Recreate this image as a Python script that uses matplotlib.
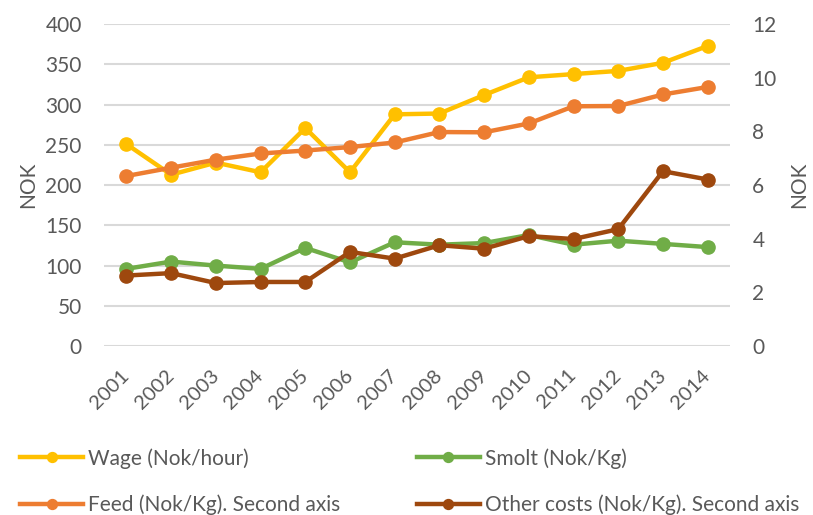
import matplotlib
matplotlib.use('Agg')
import matplotlib.pyplot as plt
import numpy as np

plt.rcParams['font.family'] = ['Lato', 'DejaVu Sans']

years = ['2001', '2002', '2003', '2004', '2005', '2006', '2007',
         '2008', '2009', '2010', '2011', '2012', '2013', '2014']
wage = [251, 213, 228, 216, 271, 216, 288, 289, 312, 334, 338, 342, 352, 373]
smolt = [96, 105, 100, 96, 122, 104, 129, 126, 128, 138, 126, 131, 127, 123]
feed = [6.34, 6.65, 6.95, 7.18, 7.29, 7.42, 7.59, 7.98, 7.97, 8.30, 8.94, 8.95, 9.38, 9.66]
other = [2.63, 2.72, 2.35, 2.39, 2.39, 3.51, 3.26, 3.76, 3.63, 4.10, 3.99, 4.36, 6.52, 6.21]

c_wage = '#FFC000'
c_smolt = '#70AD47'
c_feed = '#ED7D31'
c_other = '#9E480E'
txt = '#595959'

fig = plt.figure(figsize=(8.13, 5.15), dpi=100)
ax = fig.add_axes([0.128, 0.328, 0.77, 0.625])
ax2 = ax.twinx()

x = np.arange(len(years))
kw = dict(linewidth=3.2, marker='o', markersize=9.5)
l1, = ax.plot(x, wage, color=c_wage, label='Wage (Nok/hour)', **kw)
l2, = ax.plot(x, smolt, color=c_smolt, label='Smolt (Nok/Kg)', **kw)
l3, = ax2.plot(x, feed, color=c_feed, label='Feed (Nok/Kg). Second axis', **kw)
l4, = ax2.plot(x, other, color=c_other, label='Other costs (Nok/Kg). Second axis', **kw)

ax.set_xlim(-0.5, len(years) - 0.5)
ax.set_ylim(0, 400)
ax2.set_ylim(0, 12)
ax.set_yticks(np.arange(0, 401, 50))
ax2.set_yticks(np.arange(0, 13, 2))
ax.grid(axis='y', color='#D9D9D9', linewidth=1.5)
ax.set_axisbelow(True)

ax.set_xticks(x)
ax.set_xticklabels(years, rotation=45, ha='right', va='center', rotation_mode='anchor')

for a in (ax, ax2):
    for s in a.spines.values():
        s.set_visible(False)
ax.tick_params(axis='both', length=0, labelsize=15, labelcolor=txt)
ax.tick_params(axis='y', pad=16)
ax.tick_params(axis='x', pad=19, labelsize=14.5)
ax2.tick_params(axis='y', length=0, labelsize=15, labelcolor=txt, pad=16)

ax.set_ylabel('NOK', fontsize=15, color=txt)
ax2.set_ylabel('NOK', fontsize=15, color=txt, rotation=90)
ax.yaxis.set_label_coords(-0.105, 0.5)
ax2.yaxis.set_label_coords(1.095, 0.5)

lkw = dict(frameon=False, fontsize=15, labelcolor=txt, handlelength=3.0,
           handletextpad=0.25, labelspacing=1.25, borderpad=0, borderaxespad=0,
           markerscale=0.75)
fig.legend(handles=[l1, l3], loc='upper left', bbox_to_anchor=(0.025, 0.13), **lkw)
fig.legend(handles=[l2, l4], loc='upper left', bbox_to_anchor=(0.513, 0.13), **lkw)

fig.savefig('out.png', dpi=100)
